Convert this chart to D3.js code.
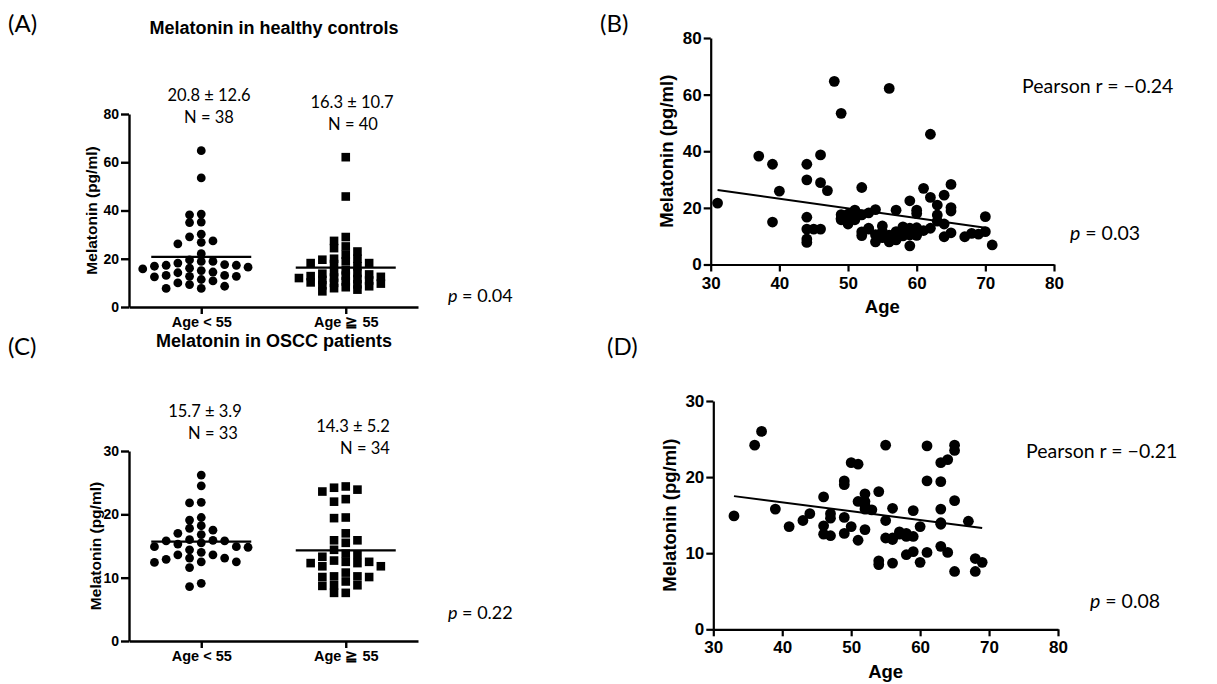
<!DOCTYPE html>
<html>
<head>
<meta charset="utf-8">
<script src="https://cdn.jsdelivr.net/npm/d3@7"></script>
<style>
  body { margin: 0; background: #fff; }
</style>
</head>
<body>
<script>
const width = 1217;
const height = 684;

const groupLabels = ["Age < 55", "Age \u2267 55"];

// (A) healthy controls, melatonin pg/ml
const healthyYoung = [64.8, 53.5, 38.5, 38.2, 35.2, 35.0, 30.2, 29.1, 27.4, 26.8, 26.2, 22.1,
  19.5, 18.9, 18.9, 18.2, 17.6, 17.3, 17.3, 16.9, 16.1, 16.5, 15.8, 15.1, 14.5, 14.2,
  13.1, 13.1, 12.7, 12.7, 12.5, 11.4, 10.8, 10.0, 9.3, 8.6, 7.7, 7.7];
const healthyOld = [62.1, 45.8, 29.0, 27.4, 25.1, 24.4, 23.0, 21.7, 20.0, 20.0, 19.6, 18.9,
  18.2, 18.2, 17.8, 16.9, 15.2, 14.5, 14.1, 13.8, 13.5, 13.0, 12.8, 12.5, 12.2, 12.0,
  11.6, 11.2, 11.0, 10.6, 10.2, 10.0, 9.7, 9.4, 9.0, 8.6, 8.2, 7.8, 7.2, 6.5];
const healthyMeans = [20.8, 16.3];
const healthyStats = ["20.8 \u00b1 12.6", "16.3 \u00b1 10.7"];
const healthyN = ["N = 38", "N = 40"];

// (C) OSCC patients
const osccYoung = [26.2, 24.5, 21.9, 21.8, 19.5, 19.1, 18.2, 17.8, 17.5, 17.0, 16.8, 16.0,
  15.9, 15.8, 15.8, 15.5, 15.3, 14.9, 14.9, 14.8, 14.4, 14.0, 13.6, 13.6, 13.1, 13.1,
  12.9, 12.5, 12.5, 12.4, 11.6, 9.1, 8.6];
const osccOld = [24.4, 24.2, 23.9, 23.6, 22.4, 22.0, 19.5, 19.4, 17.0, 15.9, 15.9, 15.5,
  14.4, 13.8, 13.6, 13.3, 12.7, 12.5, 12.5, 12.3, 12.3, 11.8, 11.8, 10.8, 10.2, 10.2,
  10.1, 10.1, 9.4, 8.8, 8.8, 8.7, 7.6, 7.6];
const osccMeans = [15.7, 14.3];
const osccStats = ["15.7 \u00b1 3.9", "14.3 \u00b1 5.2"];
const osccN = ["N = 33", "N = 34"];

// (B) healthy controls: age vs melatonin
const healthyAge = [31, 37, 39, 39, 40, 44, 44, 44, 44, 44, 44, 45, 46, 46, 46, 47, 48, 49, 49, 49,
  49, 50, 51, 51, 51, 52, 52, 52, 53, 53, 54, 54, 54, 55, 56, 61, 65, 62, 64, 59,
  63, 65, 65, 60, 60, 57, 63, 64, 70, 69, 70, 71, 67, 65, 64, 62, 53, 56, 56, 57,
  57, 58, 58, 59, 59, 59, 60, 60, 62, 52, 55, 58, 61, 57, 55, 50, 63, 68];
const healthyMel = [21.7, 38.3, 35.4, 15.0, 25.9, 35.4, 29.9, 16.7, 12.5, 9.0, 7.8, 12.5, 12.5, 38.7, 28.9, 26.1, 64.7, 53.4, 17.6, 15.8,
  16.3, 14.3, 18.7, 15.8, 19.2, 27.2, 11.5, 10.2, 18.2, 12.5, 19.4, 8.0, 10.5, 11.6, 62.2, 26.9, 28.3, 23.7, 24.5, 22.5,
  21.0, 20.1, 18.9, 19.2, 18.0, 19.2, 17.5, 14.3, 16.9, 10.7, 11.6, 6.9, 9.8, 11.2, 9.8, 12.8, 12.8, 10.4, 8.0, 11.6,
  8.7, 11.6, 10.1, 12.8, 10.4, 6.6, 13.0, 10.3, 46.0, 17.5, 13.6, 13.3, 12.0, 10.8, 9.5, 17.8, 15.3, 11.0];
const healthyFitAge = [31, 70];
const healthyFitMel = [26.3, 13.0];

// (D) OSCC patients: age vs melatonin
const osccAge = [33, 36, 37, 39, 41, 43, 44, 46, 46, 46, 47, 47, 47, 49, 49, 49, 49, 50, 50, 51,
  51, 51, 52, 52, 52, 52, 53, 54, 54, 54, 55, 55, 55, 56, 56, 56, 57, 58, 58, 59,
  59, 59, 60, 60, 61, 61, 61, 63, 63, 63, 63, 63, 64, 64, 65, 65, 65, 65, 67, 68,
  68, 69, 57, 58, 52, 56, 63];
const osccMel = [14.9, 24.2, 26.0, 15.8, 13.5, 14.3, 15.2, 17.4, 13.6, 12.5, 15.2, 14.6, 12.3, 19.5, 19.0, 14.7, 12.6, 21.9, 13.5, 21.7,
  16.8, 11.7, 17.8, 16.3, 15.8, 13.1, 15.7, 18.1, 9.0, 8.5, 24.2, 14.3, 12.0, 12.0, 15.9, 8.7, 12.5, 12.6, 9.8, 12.2,
  15.6, 10.2, 13.5, 8.8, 24.1, 19.5, 10.1, 21.9, 19.4, 15.8, 13.8, 10.9, 22.3, 10.1, 24.2, 23.5, 16.9, 7.6, 14.2, 9.3,
  7.6, 8.8, 12.8, 12.2, 16.8, 11.8, 14.0];
const osccFitAge = [33, 69];
const osccFitMel = [17.5, 13.3];

const svg = d3.select("body")
  .append("svg")
  .attr("width", width)
  .attr("height", height);

const boldFont = "'Liberation Sans', Arial, sans-serif";
const noteFont = "Lato, 'Open Sans', sans-serif";

// plain text helper
function label(x, y, str, size, opts) {
  opts = opts || {};
  const t = svg.append("text")
    .attr("x", x)
    .attr("y", y)
    .attr("dominant-baseline", "central")
    .attr("text-anchor", opts.anchor || "start")
    .style("font-family", opts.bold ? boldFont : noteFont)
    .style("font-weight", opts.bold ? "bold" : "normal")
    .style("font-size", size + "px")
    .attr("fill", "#000");
  if (opts.rotate) t.attr("transform", "rotate(-90," + x + "," + y + ")");
  if (opts.pValue) {
    t.append("tspan").style("font-style", "italic").text("p");
    t.append("tspan").text(str);
  } else {
    t.text(str);
  }
  return t;
}

function styleAxis(g, fontSize, strokeW) {
  g.selectAll("path, line").attr("stroke", "#000").attr("stroke-width", strokeW);
  g.selectAll("text")
    .style("font-family", boldFont)
    .style("font-weight", "bold")
    .style("font-size", fontSize + "px")
    .attr("fill", "#000");
}

// lay points of one group in columns so that they do not cover each other
function swarm(values, y, cx, step, minDy) {
  const placed = [];
  values.slice().sort((a, b) => b - a).forEach(v => {
    const py = y(v);
    for (let k = 0; k < 20; k++) {
      const cands = k === 0 ? [0] : [-k, k];
      const col = cands.find(c => !placed.some(p => p.col === c && Math.abs(p.y - py) < minDy));
      if (col !== undefined) {
        placed.push({ v: v, y: py, col: col, x: cx + col * step });
        break;
      }
    }
  });
  return placed;
}

function categoryPanel(cfg) {
  const x = d3.scalePoint().domain(groupLabels).range([129, 418]).padding(0.5);
  const y = d3.scaleLinear().domain(cfg.domain).range(cfg.yRange);

  const yAxis = svg.append("g")
    .attr("transform", "translate(129,0)")
    .call(d3.axisLeft(y).tickValues(cfg.ticks).tickSize(8).tickSizeOuter(0).tickPadding(2));
  styleAxis(yAxis, 14, 2.4);

  const xAxis = svg.append("g")
    .attr("transform", "translate(0," + cfg.yRange[0] + ")")
    .call(d3.axisBottom(x).tickSize(7).tickSizeOuter(0).tickPadding(3));
  styleAxis(xAxis, 14.5, 2.4);

  // circles for the younger group
  const young = swarm(cfg.young, y, x(groupLabels[0]), 11.7, cfg.dyCircle);
  svg.append("g").selectAll("circle")
    .data(young)
    .enter()
    .append("circle")
    .attr("cx", d => d.x)
    .attr("cy", d => d.y)
    .attr("r", 4.4)
    .attr("fill", "#000");

  // squares for the older group
  const old = swarm(cfg.old, y, x(groupLabels[1]), 11.7, cfg.dySquare);
  const side = 8.6;
  svg.append("g").selectAll("rect")
    .data(old)
    .enter()
    .append("rect")
    .attr("x", d => d.x - side / 2)
    .attr("y", d => d.y - side / 2)
    .attr("width", side)
    .attr("height", side)
    .attr("fill", "#000");

  // mean lines
  svg.append("g").selectAll("line")
    .data(cfg.means)
    .enter()
    .append("line")
    .attr("x1", (d, i) => x(groupLabels[i]) - 50)
    .attr("x2", (d, i) => x(groupLabels[i]) + 50)
    .attr("y1", d => y(d))
    .attr("y2", d => y(d))
    .attr("stroke", "#000")
    .attr("stroke-width", 2.2);

  label(cfg.yLabelX, (cfg.yRange[0] + cfg.yRange[1]) / 2, "Melatonin (pg/ml)", 15.5, { bold: true, anchor: "middle", rotate: true });
  label(274, cfg.titleY, cfg.title, 18, { bold: true, anchor: "middle" });
  label(8, cfg.tagY, cfg.tag, 24);
  cfg.stats.forEach((s, i) => {
    label(cfg.statX[i], cfg.statY[i], s, 16.5, { anchor: "middle" });
    label(cfg.nX[i], cfg.statY[i] + 22, cfg.n[i], 16.5, { anchor: "middle" });
  });
  label(448, cfg.pY, " = " + cfg.p, 18, { pValue: true });
}

function corrPanel(cfg) {
  const x = d3.scaleLinear().domain([30, 80]).range(cfg.xRange);
  const y = d3.scaleLinear().domain(cfg.domain).range(cfg.yRange);

  const xAxis = svg.append("g")
    .attr("transform", "translate(0," + cfg.yRange[0] + ")")
    .call(d3.axisBottom(x).tickValues([30, 40, 50, 60, 70, 80]).tickSize(7).tickSizeOuter(0).tickPadding(5));
  styleAxis(xAxis, 17, 2.2);

  const yAxis = svg.append("g")
    .attr("transform", "translate(" + cfg.xRange[0] + ",0)")
    .call(d3.axisLeft(y).tickValues(cfg.ticks).tickSize(7).tickSizeOuter(0).tickPadding(2));
  styleAxis(yAxis, 17, 2.2);

  const points = cfg.age.map((a, i) => ({ age: a, mel: cfg.mel[i] }));
  svg.append("g").selectAll("circle")
    .data(points)
    .enter()
    .append("circle")
    .attr("cx", d => x(d.age))
    .attr("cy", d => y(d.mel))
    .attr("r", 5.4)
    .attr("fill", "#000");

  const fit = cfg.fitAge.map((a, i) => ({ age: a, mel: cfg.fitMel[i] }));
  const lineFunc = d3.line()
    .x(d => x(d.age))
    .y(d => y(d.mel));
  svg.append("path")
    .attr("d", lineFunc(fit))
    .attr("stroke", "#000")
    .attr("stroke-width", 2)
    .attr("fill", "none");

  label(cfg.xRange[0] - 44, (cfg.yRange[0] + cfg.yRange[1]) / 2, "Melatonin (pg/ml)", 18.5, { bold: true, anchor: "middle", rotate: true });
  label((cfg.xRange[0] + cfg.xRange[1]) / 2, cfg.yRange[0] + 42, "Age", 18.5, { bold: true, anchor: "middle" });
  label(cfg.tagX, cfg.tagY, cfg.tag, 24);
  label(cfg.rX, cfg.rY, "Pearson r = \u2212" + cfg.r, 19.5);
  label(cfg.pX, cfg.pY, " = " + cfg.p, 19.5, { pValue: true });
}

categoryPanel({
  young: healthyYoung, old: healthyOld, means: healthyMeans, dyCircle: 7.5, dySquare: 5.2,
  domain: [0, 80], ticks: [0, 20, 40, 60, 80], yRange: [307, 114],
  title: "Melatonin in healthy controls", titleY: 28, tag: "(A)", tagY: 22,
  stats: healthyStats, n: healthyN, statX: [209, 352], nX: [209, 353], statY: [95, 102],
  yLabelX: 91, p: "0.04", pY: 295
});

categoryPanel({
  young: osccYoung, old: osccOld, means: osccMeans, dyCircle: 8, dySquare: 7,
  domain: [0, 30], ticks: [0, 10, 20, 30], yRange: [641, 451],
  title: "Melatonin in OSCC patients", titleY: 341, tag: "(C)", tagY: 345,
  stats: osccStats, n: osccN, statX: [205, 353], nX: [213, 365], statY: [411, 426],
  yLabelX: 95, p: "0.22", pY: 612
});

corrPanel({
  age: healthyAge, mel: healthyMel, fitAge: healthyFitAge, fitMel: healthyFitMel,
  domain: [0, 80], ticks: [0, 20, 40, 60, 80], xRange: [710.7, 1054], yRange: [264.5, 38],
  tag: "(B)", tagX: 600, tagY: 22, r: "0.24", rX: 1022, rY: 85, p: "0.03", pX: 1070, pY: 232
});

corrPanel({
  age: osccAge, mel: osccMel, fitAge: osccFitAge, fitMel: osccFitMel,
  domain: [0, 30], ticks: [0, 10, 20, 30], xRange: [713.3, 1058], yRange: [629.3, 401],
  tag: "(D)", tagX: 607, tagY: 345, r: "0.21", rX: 1026, rY: 450, p: "0.08", pX: 1090, pY: 600
});
</script>
</body>
</html>
